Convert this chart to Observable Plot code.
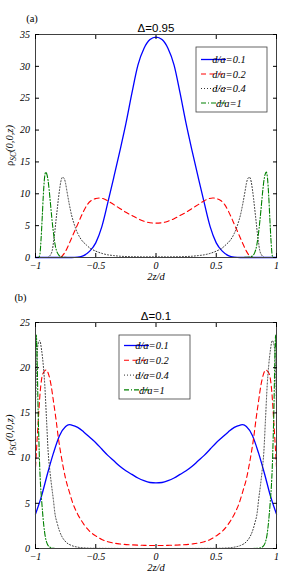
<!DOCTYPE html>
<html>
<head>
<meta charset="utf-8">
<script src="https://cdn.jsdelivr.net/npm/d3@7"></script>
<script src="https://cdn.jsdelivr.net/npm/@observablehq/plot@0.6"></script>
<style>
  html, body { margin: 0; padding: 0; background: #fff; }
  #chart svg { display: block; }
</style>
</head>
<body>
<div id="chart"></div>
<script>
// ---------- data ----------
const seriesNames = ["d/a=0.1", "d/a=0.2", "d/a=0.4", "d/a=1"];
const xTicks = [-1, -0.5, 0, 0.5, 1];
const yTicksA = [0, 5, 10, 15, 20, 25, 30, 35];
const yTicksB = [0, 5, 10, 15, 20, 25];
const titleA = "Δ=0.95";
const titleB = "Δ=0.1";

// Panel (a): Δ = 0.95
const aBlueZ   = [-1,-0.7,-0.65,-0.6,-0.55,-0.5,-0.45,-0.4,-0.35,-0.3,-0.25,-0.2,-0.15,-0.1,-0.05,0,0.05,0.1,0.15,0.2,0.25,0.3,0.35,0.4,0.45,0.5,0.55,0.6,0.65,0.7,1];
const aBlueRho = [0,0,0.05,0.3,1.0,2.3,4.8,8.6,12.6,16.7,21.0,25.8,30.2,32.8,34.2,34.6,34.2,32.8,30.2,25.8,21.0,16.7,12.6,8.6,4.8,2.3,1.0,0.3,0.05,0,0];

const aRedZ   = [-1,-0.8,-0.78,-0.75,-0.72,-0.69,-0.65,-0.62,-0.6,-0.57,-0.54,-0.5,-0.47,-0.44,-0.4,-0.35,-0.3,-0.25,-0.2,-0.15,-0.1,-0.05,0,0.05,0.1,0.15,0.2,0.25,0.3,0.35,0.4,0.44,0.47,0.5,0.54,0.57,0.6,0.62,0.65,0.69,0.72,0.75,0.78,0.8,1];
const aRedRho = [0,0,0.2,1,2.2,3.5,5.2,6.5,7.3,8.3,8.9,9.25,9.35,9.25,8.9,8.3,7.7,7.1,6.6,6.1,5.7,5.45,5.4,5.45,5.7,6.1,6.6,7.1,7.7,8.3,8.9,9.25,9.35,9.25,8.9,8.3,7.3,6.5,5.2,3.5,2.2,1,0.2,0,0];

const aDotZ   = [-1,-0.9,-0.88,-0.86,-0.85,-0.84,-0.83,-0.82,-0.81,-0.8,-0.79,-0.775,-0.76,-0.75,-0.74,-0.72,-0.7,-0.68,-0.65,-0.62,-0.58,-0.55,-0.5,-0.45,-0.4,-0.35,-0.3,-0.2,-0.1,0,0.1,0.2,0.3,0.35,0.4,0.45,0.5,0.55,0.58,0.62,0.65,0.68,0.7,0.72,0.74,0.75,0.76,0.775,0.79,0.8,0.81,0.82,0.83,0.84,0.85,0.86,0.88,0.9,1];
const aDotRho = [0,0,0.3,1.2,2.5,4.0,5.8,7.5,9.2,10.7,11.9,12.6,12.3,11.6,10.5,8.4,6.6,5.3,3.8,2.8,2.0,1.5,1.0,0.65,0.42,0.3,0.2,0.13,0.1,0.1,0.1,0.13,0.2,0.3,0.42,0.65,1.0,1.5,2.0,2.8,3.8,5.3,6.6,8.4,10.5,11.6,12.3,12.6,11.9,10.7,9.2,7.5,5.8,4.0,2.5,1.2,0.3,0,0];

const aGreenZ   = [-1,-0.975,-0.965,-0.955,-0.945,-0.935,-0.925,-0.915,-0.905,-0.895,-0.885,-0.875,-0.865,-0.855,-0.845,-0.835,-0.82,-0.8,-0.78,-0.7,0,0.7,0.78,0.8,0.82,0.835,0.845,0.855,0.865,0.875,0.885,0.895,0.905,0.915,0.925,0.935,0.945,0.955,0.965,0.975,1];
const aGreenRho = [0,0,0.3,2.5,6,9.8,12.5,13.4,13.0,12,10.3,8.3,6.3,4.5,3,1.8,0.8,0.25,0.08,0,0,0,0.08,0.25,0.8,1.8,3,4.5,6.3,8.3,10.3,12,13.0,13.4,12.5,9.8,6,2.5,0.3,0,0];

// Panel (b): Δ = 0.1
const bBlueZ   = [-1,-0.95,-0.9,-0.85,-0.8,-0.75,-0.72,-0.7,-0.65,-0.6,-0.55,-0.5,-0.45,-0.4,-0.35,-0.3,-0.25,-0.2,-0.15,-0.1,-0.05,0,0.05,0.1,0.15,0.2,0.25,0.3,0.35,0.4,0.45,0.5,0.55,0.6,0.65,0.7,0.72,0.75,0.8,0.85,0.9,0.95,1];
const bBlueRho = [3.8,5.8,8.3,10.6,12.5,13.5,13.7,13.65,13.4,12.9,12.3,11.7,11.0,10.3,9.7,9.1,8.6,8.2,7.8,7.5,7.3,7.25,7.3,7.5,7.8,8.2,8.6,9.1,9.7,10.3,11.0,11.7,12.3,12.9,13.4,13.65,13.7,13.5,12.5,10.6,8.3,5.8,3.8];

const bRedZ   = [-1,-0.98,-0.96,-0.94,-0.91,-0.89,-0.87,-0.85,-0.83,-0.81,-0.79,-0.77,-0.75,-0.72,-0.69,-0.65,-0.6,-0.55,-0.5,-0.45,-0.4,-0.3,-0.2,-0.1,0,0.1,0.2,0.3,0.4,0.45,0.5,0.55,0.6,0.65,0.69,0.72,0.75,0.77,0.79,0.81,0.83,0.85,0.87,0.89,0.91,0.94,0.96,0.98,1];
const bRedRho = [9,13.5,17.5,19.3,19.75,19.2,18.0,16.2,14.3,12.2,10.5,9.0,7.7,6.3,5.0,3.8,2.7,1.9,1.4,1.0,0.75,0.5,0.4,0.35,0.33,0.35,0.4,0.5,0.75,1.0,1.4,1.9,2.7,3.8,5.0,6.3,7.7,9.0,10.5,12.2,14.3,16.2,18.0,19.2,19.75,19.3,17.5,13.5,9];

const bDotZ   = [-1,-0.99,-0.98,-0.965,-0.95,-0.935,-0.923,-0.909,-0.895,-0.88,-0.867,-0.85,-0.84,-0.82,-0.8,-0.784,-0.75,-0.7,-0.65,-0.6,-0.5,0,0.5,0.6,0.65,0.7,0.75,0.784,0.8,0.82,0.84,0.85,0.867,0.88,0.895,0.909,0.923,0.935,0.95,0.965,0.98,0.99,1];
const bDotRho = [16,20.5,22.5,23.0,22,20.2,18.1,14.4,10.7,8.5,7.0,5.2,4.0,2.8,1.9,1.4,0.75,0.33,0.15,0.07,0.02,0,0.02,0.07,0.15,0.33,0.75,1.4,1.9,2.8,4.0,5.2,7.0,8.5,10.7,14.4,18.1,20.2,22,23.0,22.5,20.5,16];

const bGreenZ   = [-1,-0.993,-0.985,-0.978,-0.972,-0.965,-0.958,-0.95,-0.94,-0.93,-0.92,-0.905,-0.88,-0.85,-0.8,0,0.8,0.85,0.88,0.905,0.92,0.93,0.94,0.95,0.958,0.965,0.972,0.978,0.985,0.993,1];
const bGreenRho = [21,23.6,20,15,12,9.0,7.0,5.5,3.8,2.4,1.4,0.6,0.15,0.03,0,0,0,0.03,0.15,0.6,1.4,2.4,3.8,5.5,7.0,9.0,12,15,20,23.6,21];

// ---------- styles ----------
const styles = [
  {stroke: "#0000ff", strokeDasharray: null, strokeWidth: 1.3},
  {stroke: "#ff0000", strokeDasharray: "5,3.5", strokeWidth: 1.1},
  {stroke: "#333333", strokeDasharray: "1,2", strokeWidth: 1},
  {stroke: "#008000", strokeDasharray: "5,2,1,2", strokeWidth: 1.1}
];
const serif = "'Liberation Serif', 'Times New Roman', serif";
const sans = "'Liberation Sans', Arial, sans-serif";
const fmt = d => d < 0 ? "\u2212" + Math.abs(d) : String(d);
const rows = (zs, rs) => zs.map((z, i) => ({z, rho: rs[i]}));

function panel({height, marginTop, marginBottom, yMax, yTicks, data, title, tag, tagDx, tagDy, legend}) {
  const marginLeft = 35, marginRight = 8;
  const svg = Plot.plot({
    width: 284, height, marginTop, marginBottom, marginLeft, marginRight,
    style: {fontFamily: serif, fontStyle: "italic", fontSize: "10px", background: "#fff", overflow: "visible"},
    x: {domain: [-1, 1]},
    y: {domain: [0, yMax]},
    marks: [
      ...data.map((d, i) => Plot.line(d, {x: "z", y: "rho", curve: "monotone-x", ...Object.fromEntries(Object.entries(styles[i]).filter(([k, v]) => v != null))})),
      Plot.frame({stroke: "#404040", strokeWidth: 1}),
      Plot.axisY({ticks: yTicks, tickSize: -4, tickPadding: 9.5, tickFormat: fmt, label: null}),
      Plot.axisY({anchor: "right", ticks: yTicks, tickSize: -4, fill: "none", label: null}),
      Plot.axisX({ticks: xTicks, tickSize: -4, tickPadding: 8, tickFormat: fmt, label: null}),
      Plot.axisX({anchor: "top", ticks: xTicks, tickSize: -4, fill: "none", label: null}),
      Plot.text([title], {frameAnchor: "top", dy: -11, fontFamily: sans, fontStyle: "normal", fontSize: 11.5}),
      Plot.text([tag], {frameAnchor: "top-left", textAnchor: "middle", dx: tagDx, dy: tagDy, fontFamily: serif, fontStyle: "normal", fontSize: 10.5}),
      Plot.text(["2z/d"], {frameAnchor: "bottom", lineAnchor: "top", dy: 15.5, fontFamily: serif, fontStyle: "italic", fontSize: 10.5})
    ]
  });
  const s = d3.select(svg);
  // y-axis label with subscript
  const cy = marginTop + (height - marginTop - marginBottom) / 2;
  const t = s.append("text")
    .attr("transform", `translate(13,${cy}) rotate(-90)`)
    .attr("text-anchor", "middle")
    .attr("font-family", serif)
    .attr("font-size", 10.5)
    .attr("fill", "#000");
  t.append("tspan").attr("font-style", "normal").text("ρ");
  t.append("tspan").attr("font-style", "italic").attr("font-size", 7.5).attr("dy", 2.5).text("SC");
  t.append("tspan").attr("font-style", "italic").attr("dy", -2.5).text("(0,0,z)");
  // legend
  const g = s.append("g");
  g.append("rect").attr("x", legend.x).attr("y", legend.y).attr("width", legend.w).attr("height", legend.h)
    .attr("fill", "#fff").attr("stroke", "#404040").attr("stroke-width", 0.8);
  seriesNames.forEach((name, i) => {
    const yy = legend.y + legend.first + i * legend.step;
    const st = styles[i];
    g.append("line").attr("x1", legend.x + legend.l1).attr("x2", legend.x + legend.l2)
      .attr("y1", yy).attr("y2", yy).attr("stroke", st.stroke).attr("stroke-width", st.strokeWidth)
      .attr("stroke-dasharray", st.strokeDasharray);
    g.append("text").attr("x", legend.x + legend.tx).attr("y", yy).attr("dy", "0.35em")
      .attr("font-family", serif).attr("font-style", "italic").attr("font-size", 10.5).attr("fill", "#000")
      .text(name);
  });
  return svg;
}

const chart = document.getElementById("chart");
chart.append(panel({
  height: 285, marginTop: 34, marginBottom: 28, yMax: 35, yTicks: yTicksA,
  data: [rows(aBlueZ, aBlueRho), rows(aRedZ, aRedRho), rows(aDotZ, aDotRho), rows(aGreenZ, aGreenRho)],
  title: titleA, tag: "(a)", tagDx: -3.5, tagDy: -20,
  legend: {x: 196, y: 47, w: 71, h: 65, first: 12.5, step: 14.5, l1: 5, l2: 30, tx: 33}
}));
chart.append(panel({
  height: 292, marginTop: 37, marginBottom: 29, yMax: 25, yTicks: yTicksB,
  data: [rows(bBlueZ, bBlueRho), rows(bRedZ, bRedRho), rows(bDotZ, bDotRho), rows(bGreenZ, bGreenRho)],
  title: titleB, tag: "(b)", tagDx: -15, tagDy: -29,
  legend: {x: 119, y: 50, w: 71, h: 64, first: 10.5, step: 14.8, l1: 5, l2: 30, tx: 33}
}));
</script>
</body>
</html>
